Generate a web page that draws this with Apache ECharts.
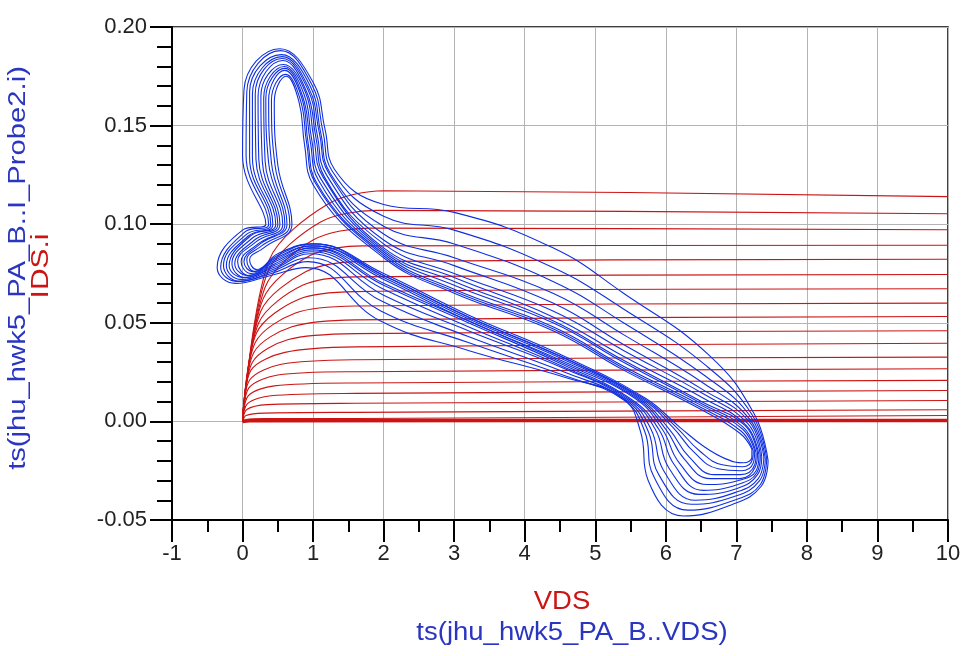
<!DOCTYPE html>
<html><head><meta charset="utf-8">
<script src="https://cdn.jsdelivr.net/npm/echarts@6/dist/echarts.min.js"></script>
<style>html,body{margin:0;padding:0;background:#fff}#c{width:967px;height:656px}</style>
</head><body><div id="c"></div>
<script>
// axis ranges [min, max, interval]
const xAxisRange = [-1, 10, 1];
const yAxisRange = [-0.05, 0.20, 0.05];

// red: IDS vs VDS output characteristic curves [VDS, IDS]
const iv01 = [[0,0],[0.1,0.0003],[10,0.0005]];
const iv02 = [[0,0],[0.05,0.0010],[0.3,0.0014],[1.6,0.0015],[10,0.003]];
const iv03 = [[0,0],[0.05,0.003],[0.3,0.0042],[1.6,0.0046],[10,0.0059]];
const iv04 = [[0,0],[0.06,0.006],[0.35,0.0085],[1.6,0.0092],[10,0.0106]];
const iv05 = [[0,0],[0.07,0.009],[0.4,0.013],[1.6,0.0142],[10,0.0157]];
const iv06 = [[0,0],[0.08,0.013],[0.45,0.018],[1.6,0.0195],[10,0.0208]];
const iv07 = [[0,0],[0.09,0.017],[0.5,0.0235],[1.6,0.0252],[10,0.0267]];
const iv08 = [[0,0],[0.1,0.021],[0.55,0.029],[1.6,0.0313],[10,0.0326]];
const iv09 = [[0,0],[0.12,0.026],[0.6,0.035],[1.6,0.0378],[10,0.0396]];
const iv10 = [[0,0],[0.14,0.030],[0.65,0.0415],[1.6,0.0445],[10,0.046]];
const iv11 = [[0,0],[0.16,0.035],[0.7,0.048],[1.6,0.0515],[10,0.0532]];
const iv12 = [[0,0],[0.18,0.040],[0.75,0.055],[1.6,0.0585],[10,0.060]];
const iv13 = [[0,0],[0.2,0.045],[0.8,0.062],[1.6,0.0658],[10,0.0673]];
const iv14 = [[0,0],[0.23,0.050],[0.85,0.069],[1.6,0.0733],[10,0.0745]];
const iv15 = [[0,0],[0.26,0.056],[0.9,0.076],[1.6,0.081],[10,0.0822]];
const iv16 = [[0,0],[0.29,0.062],[0.95,0.084],[1.7,0.089],[10,0.0893]];
const iv17 = [[0,0],[0.32,0.068],[1.0,0.092],[1.8,0.098],[10,0.0972]];
const iv18 = [[0,0],[0.35,0.075],[1.1,0.101],[1.9,0.107],[10,0.1053]];
const iv19 = [[0,0],[0.38,0.082],[1.2,0.110],[2.0,0.117],[10,0.114]];
const ivCurves = [iv01,iv02,iv03,iv04,iv05,iv06,iv07,iv08,iv09,iv10,iv11,iv12,iv13,iv14,iv15,iv16,iv17,iv18,iv19];

// blue: time-domain load-line loops ts(VDS) vs ts(I_Probe2.i) [VDS, ID]
const loop01 = [[7.22,-0.014],[7.05,-0.006],[6.5,0.006],[5.4,0.026],[4.4,0.046],[3.0,0.065],[2.0,0.083],[1.0,0.12],[0.88,0.14],[0.8,0.162],[0.62,0.175],[0.45,0.162],[0.5,0.13],[0.7,0.1],[0.3,0.088],[0.1,0.082],[0.2,0.077],[0.5,0.085],[1.0,0.09],[2.0,0.075],[3.2,0.054],[4.5,0.034],[5.7,0.012],[6.2,-0.003],[6.55,-0.013],[6.85,-0.019],[7.1,-0.021],[7.22,-0.018]];
const loop02 = [[7.24,-0.015],[7.07,-0.005],[6.50,0.007],[5.4,0.027],[4.4,0.047],[3.0,0.066],[2.0,0.084],[1.03,0.121],[0.91,0.141],[0.82,0.163],[0.61,0.176],[0.41,0.163],[0.46,0.130],[0.67,0.1],[0.27,0.089],[0.06,0.082],[0.17,0.076],[0.49,0.084],[1.0,0.090],[2.0,0.074],[3.2,0.053],[4.50,0.033],[5.67,0.012],[6.15,-0.003],[6.48,-0.015],[6.80,-0.022],[7.09,-0.023],[7.23,-0.019]];
const loop03 = [[7.26,-0.015],[7.09,-0.004],[6.51,0.008],[5.4,0.028],[4.4,0.048],[3.0,0.067],[2.0,0.085],[1.05,0.121],[0.93,0.141],[0.84,0.164],[0.60,0.178],[0.37,0.163],[0.41,0.131],[0.63,0.1],[0.25,0.090],[0.02,0.081],[0.15,0.076],[0.48,0.083],[0.99,0.089],[2.0,0.074],[3.2,0.053],[4.51,0.033],[5.64,0.012],[6.10,-0.003],[6.41,-0.016],[6.74,-0.024],[7.07,-0.025],[7.24,-0.021]];
const loop04 = [[7.28,-0.016],[7.10,-0.003],[6.51,0.009],[5.4,0.030],[4.4,0.050],[3.0,0.069],[2.0,0.086],[1.08,0.122],[0.96,0.142],[0.85,0.165],[0.60,0.179],[0.33,0.164],[0.37,0.131],[0.60,0.1],[0.22,0.090],[-0.02,0.081],[0.12,0.075],[0.47,0.082],[0.99,0.089],[2.0,0.073],[3.2,0.052],[4.51,0.032],[5.61,0.012],[6.05,-0.004],[6.33,-0.018],[6.69,-0.027],[7.06,-0.027],[7.26,-0.022]];
const loop05 = [[7.30,-0.016],[7.12,-0.002],[6.51,0.010],[5.4,0.031],[4.4,0.051],[3.0,0.071],[2.0,0.087],[1.11,0.123],[0.98,0.143],[0.87,0.166],[0.59,0.180],[0.30,0.164],[0.32,0.132],[0.57,0.1],[0.19,0.091],[-0.07,0.081],[0.09,0.074],[0.46,0.081],[0.99,0.088],[2.0,0.072],[3.2,0.051],[4.51,0.031],[5.58,0.012],[6.00,-0.004],[6.26,-0.019],[6.63,-0.029],[7.05,-0.029],[7.27,-0.023]];
const loop06 = [[7.32,-0.017],[7.14,-0.002],[6.52,0.012],[5.4,0.033],[4.4,0.053],[3.0,0.073],[2.0,0.088],[1.14,0.124],[1.01,0.144],[0.89,0.167],[0.58,0.181],[0.26,0.165],[0.28,0.132],[0.53,0.1],[0.17,0.092],[-0.11,0.080],[0.07,0.074],[0.46,0.080],[0.98,0.088],[2.0,0.070],[3.2,0.051],[4.52,0.030],[5.55,0.012],[5.95,-0.004],[6.19,-0.021],[6.58,-0.032],[7.03,-0.030],[7.28,-0.025]];
const loop07 = [[7.34,-0.017],[7.16,-0.001],[6.53,0.014],[5.4,0.036],[4.4,0.056],[3.0,0.075],[2.0,0.090],[1.16,0.124],[1.04,0.144],[0.91,0.167],[0.57,0.183],[0.22,0.165],[0.23,0.133],[0.50,0.1],[0.14,0.093],[-0.15,0.080],[0.04,0.073],[0.45,0.079],[0.98,0.087],[2.0,0.069],[3.2,0.050],[4.53,0.029],[5.52,0.011],[5.90,-0.004],[6.12,-0.022],[6.53,-0.035],[7.02,-0.032],[7.29,-0.026]];
const loop08 = [[7.36,-0.018],[7.18,0.000],[6.53,0.016],[5.4,0.039],[4.4,0.060],[3.0,0.079],[2.0,0.092],[1.19,0.125],[1.06,0.145],[0.93,0.168],[0.56,0.184],[0.18,0.166],[0.19,0.133],[0.47,0.1],[0.11,0.094],[-0.19,0.079],[0.01,0.073],[0.44,0.078],[0.97,0.086],[2.0,0.067],[3.2,0.048],[4.53,0.028],[5.49,0.011],[5.85,-0.004],[6.05,-0.024],[6.47,-0.037],[7.01,-0.034],[7.30,-0.027]];
const loop09 = [[7.39,-0.018],[7.19,0.001],[6.55,0.019],[5.4,0.044],[4.4,0.065],[3.0,0.083],[2.0,0.095],[1.22,0.126],[1.09,0.146],[0.94,0.169],[0.56,0.185],[0.14,0.166],[0.14,0.134],[0.43,0.1],[0.08,0.094],[-0.23,0.079],[-0.02,0.072],[0.43,0.077],[0.96,0.085],[2.0,0.064],[3.2,0.046],[4.55,0.027],[5.46,0.011],[5.79,-0.004],[5.97,-0.025],[6.42,-0.040],[6.99,-0.036],[7.31,-0.029]];
const loop10 = [[7.41,-0.019],[7.21,0.002],[6.56,0.023],[5.4,0.050],[4.4,0.071],[3.0,0.090],[2.0,0.099],[1.24,0.126],[1.11,0.146],[0.96,0.170],[0.55,0.186],[0.10,0.167],[0.10,0.134],[0.40,0.1],[0.06,0.095],[-0.27,0.079],[-0.04,0.071],[0.42,0.076],[0.94,0.083],[1.97,0.061],[3.2,0.043],[4.56,0.025],[5.43,0.011],[5.75,-0.005],[5.90,-0.027],[6.36,-0.042],[6.98,-0.038],[7.33,-0.030]];
const loop11 = [[7.43,-0.019],[7.23,0.003],[6.58,0.028],[5.4,0.057],[4.4,0.078],[3.0,0.097],[2.0,0.104],[1.27,0.127],[1.14,0.147],[0.98,0.171],[0.54,0.188],[0.06,0.167],[0.05,0.135],[0.37,0.1],[0.03,0.096],[-0.31,0.078],[-0.07,0.071],[0.41,0.075],[0.92,0.081],[1.96,0.056],[3.2,0.040],[4.58,0.023],[5.40,0.011],[5.70,-0.005],[5.83,-0.028],[6.31,-0.045],[6.97,-0.040],[7.34,-0.032]];
const loop12 = [[7.45,-0.02],[7.25,0.004],[6.6,0.034],[5.4,0.065],[4.4,0.088],[3.0,0.106],[2.0,0.11],[1.3,0.128],[1.17,0.148],[1.0,0.172],[0.53,0.189],[0.02,0.168],[0.0,0.135],[0.33,0.1],[0.0,0.097],[-0.36,0.078],[-0.1,0.07],[0.4,0.074],[0.9,0.078],[1.95,0.051],[3.2,0.036],[4.6,0.022],[5.38,0.012],[5.64,-0.005],[5.75,-0.03],[6.25,-0.048],[6.95,-0.042],[7.35,-0.033]];
const loops = [loop01,loop02,loop03,loop04,loop05,loop06,loop07,loop08,loop09,loop10,loop11,loop12];

// axis titles
const xTitles = ['VDS', 'ts(jhu_hwk5_PA_B..VDS)'];
const yTitles = ['IDS.i', 'ts(jhu_hwk5_PA_B..I_Probe2.i)'];

const RED = '#cc1414', BLUE = '#1030e0', TBLUE = '#2a35c0';
const FONT = "'Liberation Sans', Arial, sans-serif";

const chart = echarts.init(document.getElementById('c'), null, {renderer: 'canvas'});
const series = [];
ivCurves.forEach((c, k) => series.push({
  type: 'line', data: c, showSymbol: false, smooth: 0.3, silent: true,
  lineStyle: {color: RED, width: k === 0 ? 3.5 : 1.1}, z: 2
}));
loops.forEach(l => series.push({
  type: 'line', data: l.concat([l[0]]), showSymbol: false, smooth: 0.45, silent: true,
  lineStyle: {color: BLUE, width: 1.1}, z: 3
}));

const axisCommon = {
  type: 'value',
  axisLine: {show: true, onZero: false, lineStyle: {color: '#000', width: 2}},
  axisTick: {show: true, inside: false, length: 22, lineStyle: {color: '#000', width: 2}},
  splitLine: {show: true, lineStyle: {color: '#b4b4b4', width: 1}},
  axisLabel: {color: '#222', fontSize: 22, fontFamily: FONT}
};

chart.setOption({
  animation: false,
  backgroundColor: '#fff',
  grid: {left: 172, right: 19, top: 27, bottom: 136, show: true, borderColor: '#000', borderWidth: 1.5, containLabel: false},
  xAxis: Object.assign({}, axisCommon, {
    min: xAxisRange[0], max: xAxisRange[1], interval: xAxisRange[2],
    minorTick: {show: true, splitNumber: 2, length: 12, lineStyle: {color: '#000', width: 2}},
    axisLabel: Object.assign({}, axisCommon.axisLabel, {margin: 23})
  }),
  yAxis: Object.assign({}, axisCommon, {
    min: yAxisRange[0], max: yAxisRange[1], interval: yAxisRange[2],
    minorTick: {show: true, splitNumber: 5, length: 15, lineStyle: {color: '#000', width: 2}},
    axisLabel: Object.assign({}, axisCommon.axisLabel, {margin: 25, formatter: v => v.toFixed(2)})
  }),
  graphic: [
    {type: 'text', x: 562, y: 602, scaleX: 1.1, style: {text: xTitles[0], fill: RED, font: '25px ' + FONT, align: 'center', verticalAlign: 'middle'}},
    {type: 'text', x: 572, y: 633, scaleX: 1.1, style: {text: xTitles[1], fill: TBLUE, font: '25px ' + FONT, align: 'center', verticalAlign: 'middle'}},
    {type: 'text', x: 42, y: 266, rotation: Math.PI / 2, scaleX: 1.3, style: {text: yTitles[0], fill: RED, font: '23px ' + FONT, align: 'center', verticalAlign: 'middle'}},
    {type: 'text', x: 19, y: 268, rotation: Math.PI / 2, scaleX: 1.27, style: {text: yTitles[1], fill: TBLUE, font: '23px ' + FONT, align: 'center', verticalAlign: 'middle'}}
  ],
  series: series
});
</script></body></html>
